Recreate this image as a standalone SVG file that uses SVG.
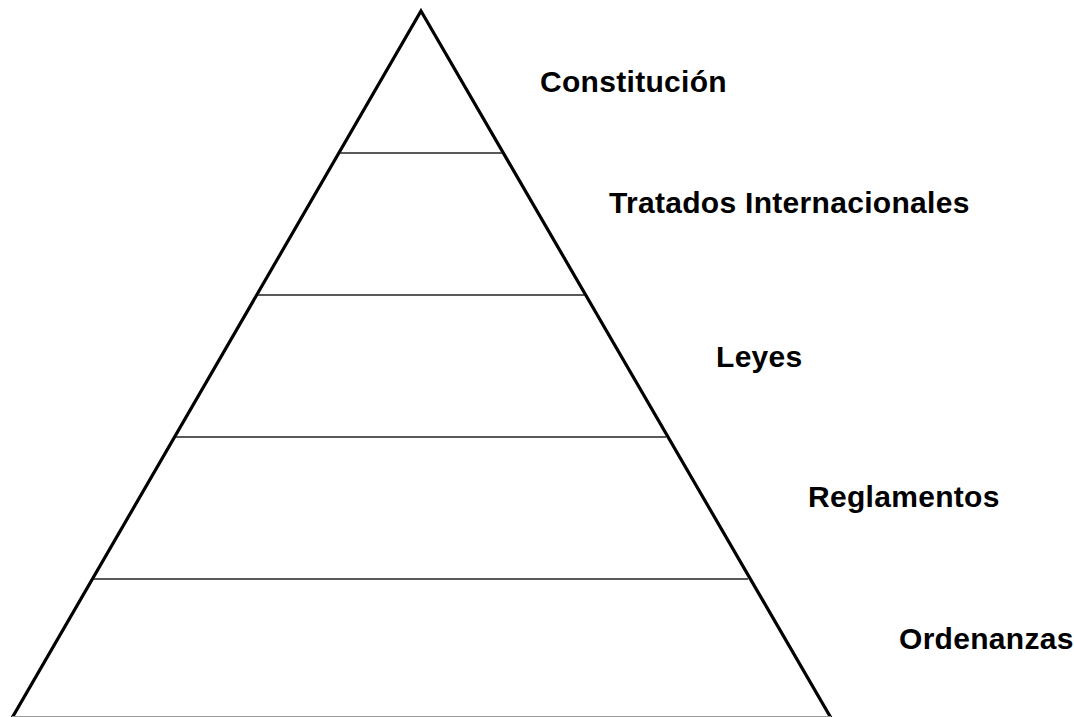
<svg xmlns="http://www.w3.org/2000/svg" width="1074" height="717" viewBox="0 0 1074 717">
<style>
.edge{fill:none;stroke:#000;stroke-width:3.2;stroke-linejoin:miter}
.div{stroke:#222;stroke-width:1.5}
.lbl{font-family:"Liberation Sans",Arial,sans-serif;font-weight:bold;font-size:30px;letter-spacing:0.3px;fill:#000}
</style>
<rect width="1074" height="717" fill="#fff"/>
<g id="pyramid">
<polygon class="edge" points="421,11 831,718 12,718"/>
<line x1="12" y1="716.5" x2="831" y2="716.5" stroke="#999" stroke-width="1"/>
</g>
<g id="connectors">
<line class="div" x1="340" y1="153" x2="502" y2="153"/>
<line class="div" x1="258" y1="295" x2="584" y2="295"/>
<line class="div" x1="176" y1="437" x2="666" y2="437"/>
<line class="div" x1="94" y1="579" x2="748" y2="579"/>
</g>
<g id="constitucion"><text class="lbl" x="540" y="92">Constitución</text></g>
<g id="tratados"><text class="lbl" x="609" y="213">Tratados Internacionales</text></g>
<g id="leyes"><text class="lbl" x="716" y="367">Leyes</text></g>
<g id="reglamentos"><text class="lbl" x="808" y="507">Reglamentos</text></g>
<g id="ordenanzas"><text class="lbl" x="899" y="649">Ordenanzas</text></g>
</svg>
